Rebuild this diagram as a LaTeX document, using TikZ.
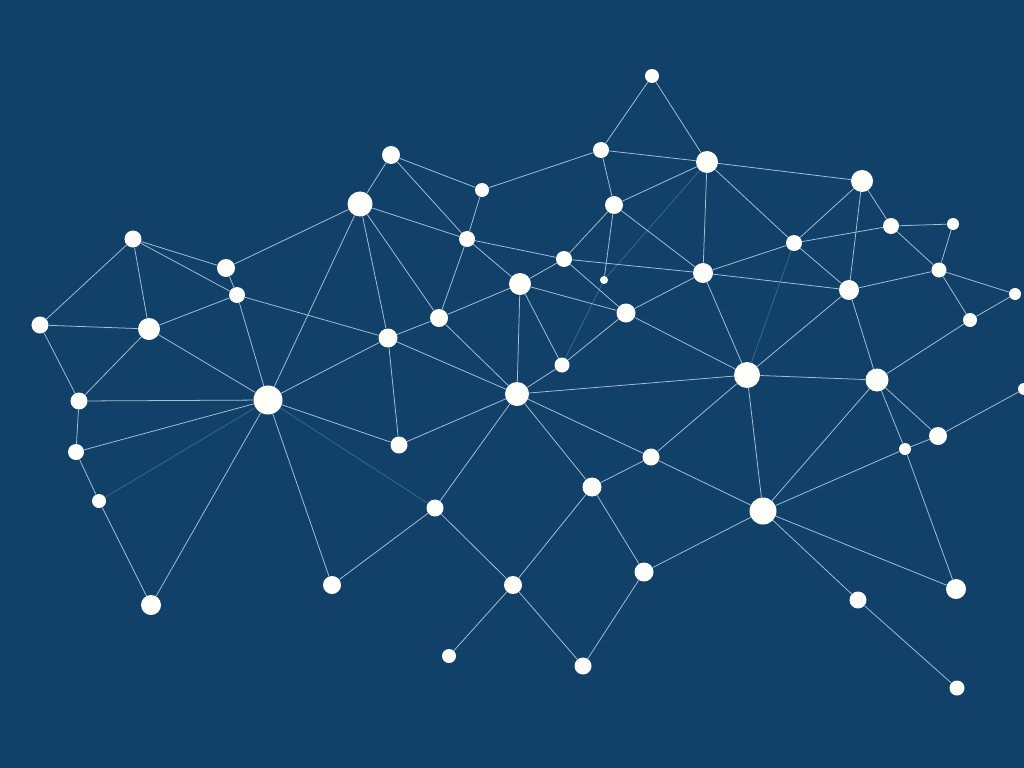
\documentclass[tikz,border=0pt]{standalone}
\definecolor{bgblue}{RGB}{17,64,104}
\definecolor{edgeblue}{RGB}{165,192,218}
\definecolor{dotwhite}{RGB}{253,253,250}
\tikzset{
	dot/.style={circle,fill=dotwhite,inner sep=0pt,minimum size=#1*0.05cm},
	link/.style={draw=edgeblue,line width=0.55pt},
	faint/.style={link,draw opacity=0.3}
}
\begin{document}
\begin{tikzpicture}[x=0.025cm,y=-0.025cm]
	\fill[bgblue] (0,0) rectangle (1024,768);
	\useasboundingbox (0,0) rectangle (1024,768);
	% nodes, top to bottom
	\node[dot=7] (n1) at (652,76) {};
	\node[dot=8] (n2) at (601,150) {};
	\node[dot=11] (n3) at (707,162) {};
	\node[dot=9] (n4) at (391,155) {};
	\node[dot=7] (n5) at (482,190) {};
	\node[dot=12.5] (n6) at (360,204) {};
	\node[dot=9] (n7) at (614,205) {};
	\node[dot=11] (n8) at (862,181) {};
	\node[dot=8] (n9) at (891,226) {};
	\node[dot=6] (n10) at (953,224) {};
	\node[dot=8.5] (n11) at (133,239) {};
	\node[dot=9] (n12) at (226,268) {};
	\node[dot=8] (n13) at (237,295) {};
	\node[dot=8] (n14) at (467,239) {};
	\node[dot=8] (n15) at (564,259) {};
	\node[dot=4] (n16) at (604,280) {};
	\node[dot=10] (n17) at (703,273) {};
	\node[dot=8] (n18) at (794,243) {};
	\node[dot=7.5] (n19) at (939,270) {};
	\node[dot=6] (n20) at (1015,294) {};
	\node[dot=8.5] (n21) at (40,325) {};
	\node[dot=11] (n22) at (149,329) {};
	\node[dot=11] (n23) at (520,284) {};
	\node[dot=9] (n24) at (439,318) {};
	\node[dot=9.5] (n25) at (626,313) {};
	\node[dot=10] (n26) at (849,290) {};
	\node[dot=7] (n27) at (970,320) {};
	\node[dot=9.5] (n28) at (388,338) {};
	\node[dot=7.5] (n29) at (562,365) {};
	\node[dot=14.5] (n30) at (268,400) {};
	\node[dot=8.5] (n31) at (79,401) {};
	\node[dot=12] (n32) at (517,394) {};
	\node[dot=13] (n33) at (747,375) {};
	\node[dot=11.5] (n34) at (877,380) {};
	\node[dot=6] (n35) at (1024,389) {};
	\node[dot=8] (n36) at (76,452) {};
	\node[dot=8.5] (n37) at (399,445) {};
	\node[dot=8.5] (n38) at (651,457) {};
	\node[dot=9] (n39) at (938,436) {};
	\node[dot=6] (n40) at (905,449) {};
	\node[dot=7] (n41) at (99,501) {};
	\node[dot=9.5] (n42) at (592,487) {};
	\node[dot=8.5] (n43) at (435,508) {};
	\node[dot=13.5] (n44) at (763,511) {};
	\node[dot=9] (n45) at (332,585) {};
	\node[dot=9] (n46) at (513,585) {};
	\node[dot=9.5] (n47) at (644,572) {};
	\node[dot=10] (n48) at (151,605) {};
	\node[dot=8.5] (n49) at (858,600) {};
	\node[dot=10] (n50) at (956,589) {};
	\node[dot=7] (n51) at (449,656) {};
	\node[dot=8.5] (n52) at (583,666) {};
	\node[dot=7.5] (n53) at (957,688) {};
	% links
	\foreach \a/\b in {n1/n2,n1/n3,n2/n3,n2/n5,n2/n7,n3/n7,n3/n17,n3/n8,n3/n18,
		n4/n5,n4/n6,n4/n14,n5/n14,n6/n14,n6/n24,n6/n28,n6/n30,n6/n12,
		n7/n15,n7/n17,n7/n16,n8/n9,n8/n18,n8/n26,n9/n10,n9/n18,n9/n19,n10/n19,
		n11/n21,n11/n22,n11/n12,n11/n13,n12/n13,n13/n22,n13/n30,n13/n28,
		n14/n15,n14/n23,n14/n24,n15/n23,n15/n17,n15/n25,n17/n18,n17/n25,n17/n26,n17/n33,
		n18/n26,n19/n26,n19/n20,n19/n27,n20/n27,n21/n22,n21/n31,n22/n31,n22/n30,
		n23/n24,n23/n25,n23/n32,n23/n29,n24/n28,n24/n32,n25/n29,n25/n33,
		n26/n33,n26/n34,n27/n34,n28/n30,n28/n32,n28/n37,n29/n32,
		n30/n31,n30/n36,n30/n48,n30/n45,n30/n37,n31/n36,
		n32/n33,n32/n37,n32/n43,n32/n42,n32/n38,n33/n34,n33/n38,n33/n44,
		n34/n44,n34/n39,n34/n40,n35/n39,n36/n41,n38/n42,n38/n44,n39/n40,
		n40/n44,n40/n50,n41/n48,n42/n46,n42/n47,n43/n45,n43/n46,
		n44/n47,n44/n49,n44/n50,n46/n51,n46/n52,n47/n52,n49/n53}
		\draw[link] (\a) -- (\b);
	% barely visible links
	\foreach \a/\b in {n30/n41,n30/n43,n3/n16,n16/n29,n18/n33}
		\draw[faint] (\a) -- (\b);
\end{tikzpicture}
\end{document}
